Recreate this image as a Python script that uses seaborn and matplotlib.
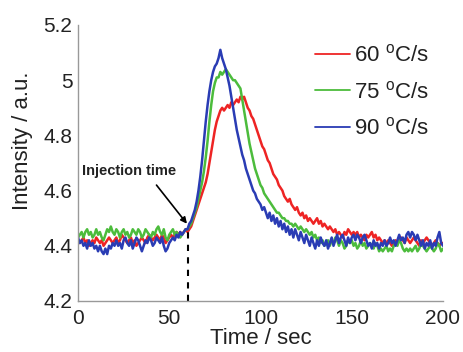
import numpy as np
import pandas as pd
import matplotlib
matplotlib.use("Agg")
import matplotlib.pyplot as plt
import seaborn as sns

# time axis (s), one reading per second
time = list(range(0, 201))

int_60 = [
    4.42, 4.41, 4.42, 4.43, 4.41, 4.42, 4.40, 4.41, 4.42, 4.41,
    4.43, 4.42, 4.41, 4.42, 4.40, 4.41, 4.42, 4.43, 4.42, 4.41,
    4.42, 4.43, 4.41, 4.42, 4.44, 4.43, 4.42, 4.41, 4.42, 4.43,
    4.41, 4.42, 4.40, 4.41, 4.42, 4.43, 4.42, 4.41, 4.43, 4.44,
    4.43, 4.42, 4.43, 4.44, 4.43, 4.42, 4.44, 4.43, 4.41, 4.42,
    4.43, 4.44, 4.43, 4.44, 4.45, 4.44, 4.45, 4.44, 4.45, 4.46,
    4.45, 4.46, 4.47, 4.49, 4.51, 4.53, 4.55, 4.57, 4.59, 4.61,
    4.63, 4.66, 4.70, 4.74, 4.78, 4.82, 4.85, 4.87, 4.89, 4.90,
    4.89, 4.90, 4.91, 4.90, 4.92, 4.91, 4.92, 4.93, 4.92, 4.94,
    4.93, 4.94, 4.92, 4.90, 4.89, 4.87, 4.86, 4.84, 4.82, 4.80,
    4.78, 4.76, 4.75, 4.73, 4.71, 4.70, 4.68, 4.66, 4.65, 4.64,
    4.62, 4.61, 4.60, 4.58, 4.57, 4.56, 4.57, 4.55, 4.54, 4.53,
    4.54, 4.52, 4.51, 4.52, 4.50, 4.51, 4.49, 4.50, 4.49, 4.48,
    4.49, 4.50, 4.48, 4.49, 4.47, 4.48, 4.47, 4.46, 4.47, 4.46,
    4.45, 4.46, 4.44, 4.45, 4.44, 4.43, 4.45, 4.44, 4.46, 4.45,
    4.44, 4.45, 4.44, 4.45, 4.43, 4.44, 4.43, 4.42, 4.44, 4.43,
    4.44, 4.45, 4.43, 4.44, 4.42, 4.43, 4.42, 4.41, 4.42, 4.41,
    4.42, 4.41, 4.40, 4.41, 4.42, 4.41, 4.42, 4.43, 4.42, 4.41,
    4.43, 4.42, 4.41, 4.42, 4.43, 4.42, 4.41, 4.40, 4.42, 4.41,
    4.42, 4.43, 4.42, 4.41, 4.40, 4.41, 4.42, 4.41, 4.40, 4.41,
    4.41,
]

int_75 = [
    4.43, 4.44, 4.45, 4.43, 4.45, 4.46, 4.44, 4.45, 4.43, 4.44,
    4.46, 4.44, 4.45, 4.43, 4.42, 4.44, 4.46, 4.45, 4.47, 4.45,
    4.44, 4.46, 4.45, 4.43, 4.45, 4.46, 4.44, 4.45, 4.43, 4.44,
    4.46, 4.45, 4.44, 4.46, 4.45, 4.43, 4.44, 4.46, 4.45, 4.44,
    4.43, 4.45, 4.44, 4.46, 4.47, 4.45, 4.44, 4.46, 4.43, 4.42,
    4.44, 4.45, 4.46, 4.44, 4.45, 4.44, 4.43, 4.44, 4.45, 4.46,
    4.46, 4.47, 4.48, 4.50, 4.52, 4.54, 4.57, 4.60, 4.63, 4.67,
    4.72, 4.78, 4.85, 4.91, 4.96, 4.99, 5.01, 5.01, 5.03, 5.02,
    5.03, 5.04, 5.03, 5.02, 5.01, 5.00, 5.00, 4.99, 4.98, 4.97,
    4.93, 4.89, 4.85, 4.81, 4.77, 4.74, 4.71, 4.68, 4.66, 4.64,
    4.62, 4.61, 4.59, 4.58, 4.57, 4.56, 4.55, 4.54, 4.53, 4.52,
    4.52, 4.51, 4.50, 4.50, 4.49, 4.49, 4.48, 4.48, 4.47, 4.48,
    4.47, 4.46, 4.47, 4.46, 4.45, 4.46, 4.45, 4.44, 4.45, 4.43,
    4.44, 4.42, 4.43, 4.41, 4.42, 4.40, 4.41, 4.42, 4.40, 4.42,
    4.41, 4.43, 4.42, 4.40, 4.42, 4.41, 4.39, 4.40, 4.42, 4.41,
    4.42, 4.40, 4.41, 4.39, 4.40, 4.42, 4.40, 4.41, 4.39, 4.40,
    4.41, 4.40, 4.39, 4.41, 4.40, 4.38, 4.39, 4.38, 4.39, 4.40,
    4.38, 4.39, 4.38, 4.40, 4.41, 4.40, 4.42, 4.41, 4.39, 4.38,
    4.39, 4.38, 4.39, 4.38, 4.39, 4.40, 4.38, 4.39, 4.41, 4.40,
    4.39, 4.38, 4.39, 4.40, 4.39, 4.38, 4.39, 4.41, 4.40, 4.38,
    4.39,
]

int_90 = [
    4.43, 4.41, 4.42, 4.40, 4.41, 4.39, 4.42, 4.40, 4.41, 4.39,
    4.40, 4.38, 4.40, 4.38, 4.37, 4.39, 4.37, 4.40, 4.39, 4.41,
    4.40, 4.42, 4.40, 4.41, 4.39, 4.42, 4.43, 4.41, 4.40, 4.42,
    4.39, 4.41, 4.43, 4.42, 4.40, 4.38, 4.40, 4.42, 4.41, 4.43,
    4.42, 4.40, 4.41, 4.43, 4.42, 4.41, 4.43, 4.40, 4.38, 4.39,
    4.41, 4.42, 4.43, 4.42, 4.44, 4.43, 4.45, 4.44, 4.45, 4.46,
    4.46, 4.48, 4.49, 4.51, 4.53, 4.56, 4.60, 4.65, 4.71, 4.78,
    4.85, 4.91, 4.96, 5.00, 5.03, 5.05, 5.06, 5.08, 5.11, 5.08,
    5.06, 5.04, 5.01, 4.98, 4.94, 4.90, 4.86, 4.82, 4.79, 4.76,
    4.73, 4.71, 4.68, 4.66, 4.64, 4.62, 4.60, 4.59, 4.57, 4.56,
    4.55, 4.53, 4.54, 4.52, 4.50, 4.52, 4.49, 4.51, 4.48, 4.50,
    4.47, 4.49, 4.46, 4.48, 4.45, 4.47, 4.44, 4.46, 4.43, 4.46,
    4.44, 4.42, 4.45, 4.43, 4.41, 4.44, 4.42, 4.40, 4.43, 4.41,
    4.39, 4.42, 4.40, 4.43, 4.41, 4.40, 4.42, 4.39, 4.41, 4.43,
    4.40, 4.42, 4.44, 4.41, 4.43, 4.44, 4.42, 4.40, 4.43, 4.41,
    4.43, 4.44, 4.42, 4.44, 4.43, 4.41, 4.43, 4.44, 4.42, 4.40,
    4.41, 4.39, 4.42, 4.40, 4.41, 4.39, 4.41, 4.40, 4.42, 4.40,
    4.41, 4.43, 4.41, 4.42, 4.40, 4.42, 4.44, 4.42, 4.43, 4.41,
    4.44, 4.45, 4.43, 4.45, 4.44, 4.42, 4.44, 4.42, 4.40, 4.42,
    4.39, 4.41, 4.40, 4.42, 4.39, 4.41, 4.40, 4.43, 4.45, 4.41,
    4.40,
]

rates = ["60 $^{\\mathrm{o}}$C/s", "75 $^{\\mathrm{o}}$C/s", "90 $^{\\mathrm{o}}$C/s"]
colors = ["#ee2424", "#4cbc3c", "#2a3cb4"]
injection_t = 60.3

df = pd.concat([
    pd.DataFrame({"time": time, "intensity": vals, "rate": r})
    for vals, r in zip([int_60, int_75, int_90], rates)
])

sns.set_style("white")
plt.rcParams["font.family"] = ["Liberation Sans", "DejaVu Sans"]
plt.rcParams["mathtext.fontset"] = "custom"
plt.rcParams["mathtext.rm"] = "Liberation Sans"

fig = plt.figure(figsize=(4.63, 3.52), dpi=100)
ax = fig.add_axes([78 / 463, 1 - 301 / 352, 365 / 463, 276 / 352])

sns.lineplot(data=df, x="time", y="intensity", hue="rate", palette=colors,
             linewidth=1.8, ax=ax)

ax.set_xlim(0, 200)
ax.set_ylim(4.2, 5.2)
ax.set_xticks([0, 50, 100, 150, 200])
ax.set_yticks([4.2, 4.4, 4.6, 4.8, 5.0, 5.2])
ax.set_yticklabels(["4.2", "4.4", "4.6", "4.8", "5", "5.2"])
ax.tick_params(direction="in", length=4, width=0.8, color="#888888",
               labelsize=15, labelcolor="#222222", pad=4)
ax.tick_params(axis="x", pad=6)
for s in ["top", "right"]:
    ax.spines[s].set_visible(False)
for s in ["left", "bottom"]:
    ax.spines[s].set_color("#999999")
    ax.spines[s].set_linewidth(1.0)

ax.set_xlabel("Time / sec", fontsize=16, color="#222222", labelpad=0)
ax.set_ylabel("Intensity / a.u.", fontsize=16, color="#222222")
ax.yaxis.set_label_coords(-0.123, 0.58)

# injection marker
ax.plot([injection_t, injection_t], [4.2, 4.47], color="black", lw=1.5,
        ls=(0, (3, 3)))
ax.annotate("", xy=(59.7, 4.48), xytext=(43, 4.62),
            arrowprops=dict(arrowstyle="-|>", color="black", lw=1.2,
                            mutation_scale=9, shrinkA=0, shrinkB=0))
ax.text(2, 4.67, "Injection time", fontsize=10.5, fontweight="bold",
        ha="left", va="center", color="#222222")

leg = ax.legend(loc="upper left", bbox_to_anchor=(0.649, 0.928), frameon=False,
                fontsize=16, handlelength=1.6, handletextpad=0.15,
                labelspacing=0.64, borderpad=0, borderaxespad=0, title=None)
for line in leg.get_lines():
    line.set_linewidth(1.3)
for t in leg.get_texts():
    t.set_color("#222222")

fig.savefig("out.png", dpi=100)
